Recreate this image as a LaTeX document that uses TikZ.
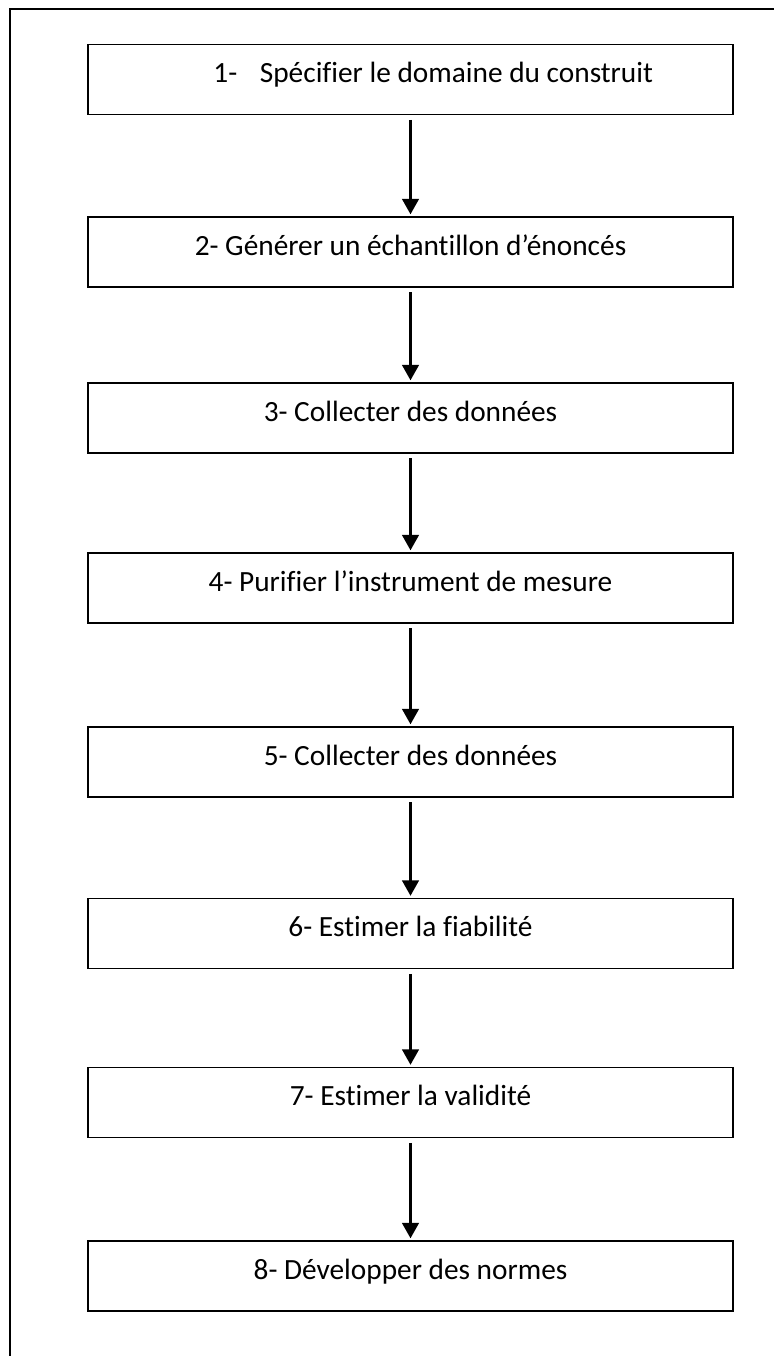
\documentclass[tikz,border=0pt]{standalone}
\usepackage{fontspec}
\setmainfont[Ligatures={NoCommon,TeX}]{Carlito}
\usetikzlibrary{arrows.meta}
\tikzset{
  stepbox/.style={draw=black, line width=1.1pt, minimum width=483.75pt, minimum height=52.5pt,
    inner sep=0pt, text height=15pt, text depth=10.5pt, font=\fontsize{22}{26}\selectfont},
  flow/.style={-{Triangle[width=12.5pt,length=11.5pt]}, line width=1.6pt, shorten <=3.5pt, shorten >=1.5pt},
  frame/.style={line width=1.5pt}
}
\begin{document}
\begin{tikzpicture}[x=0.75pt,y=-0.75pt]
\useasboundingbox (0,0) rectangle (774,1356);
\draw[frame] (10,1356) -- (10,9) -- (774,9);
\node[stepbox] (b1) at (410.5,79.5) {\makebox[483.75pt][r]{1-\hspace{17pt}Spécifier le domaine du construit\hspace{60pt}}};
\node[stepbox] (b2) at (410.5,252) {2- Générer un échantillon d’énoncés};
\node[stepbox] (b3) at (410.5,418) {3- Collecter des données};
\node[stepbox] (b4) at (410.5,588) {4- Purifier l’instrument de mesure};
\node[stepbox] (b5) at (410.5,762) {5- Collecter des données};
\node[stepbox] (b6) at (410.5,933.5) {6- Estimer la fiabilité};
\node[stepbox] (b7) at (410.5,1102.5) {7- Estimer la validité};
\node[stepbox] (b8) at (410.5,1276) {8- Développer des normes};
\foreach \a/\b in {b1/b2,b2/b3,b3/b4,b4/b5,b5/b6,b6/b7,b7/b8}
  \draw[flow] (\a.south) -- (\b.north);
\end{tikzpicture}
\end{document}
